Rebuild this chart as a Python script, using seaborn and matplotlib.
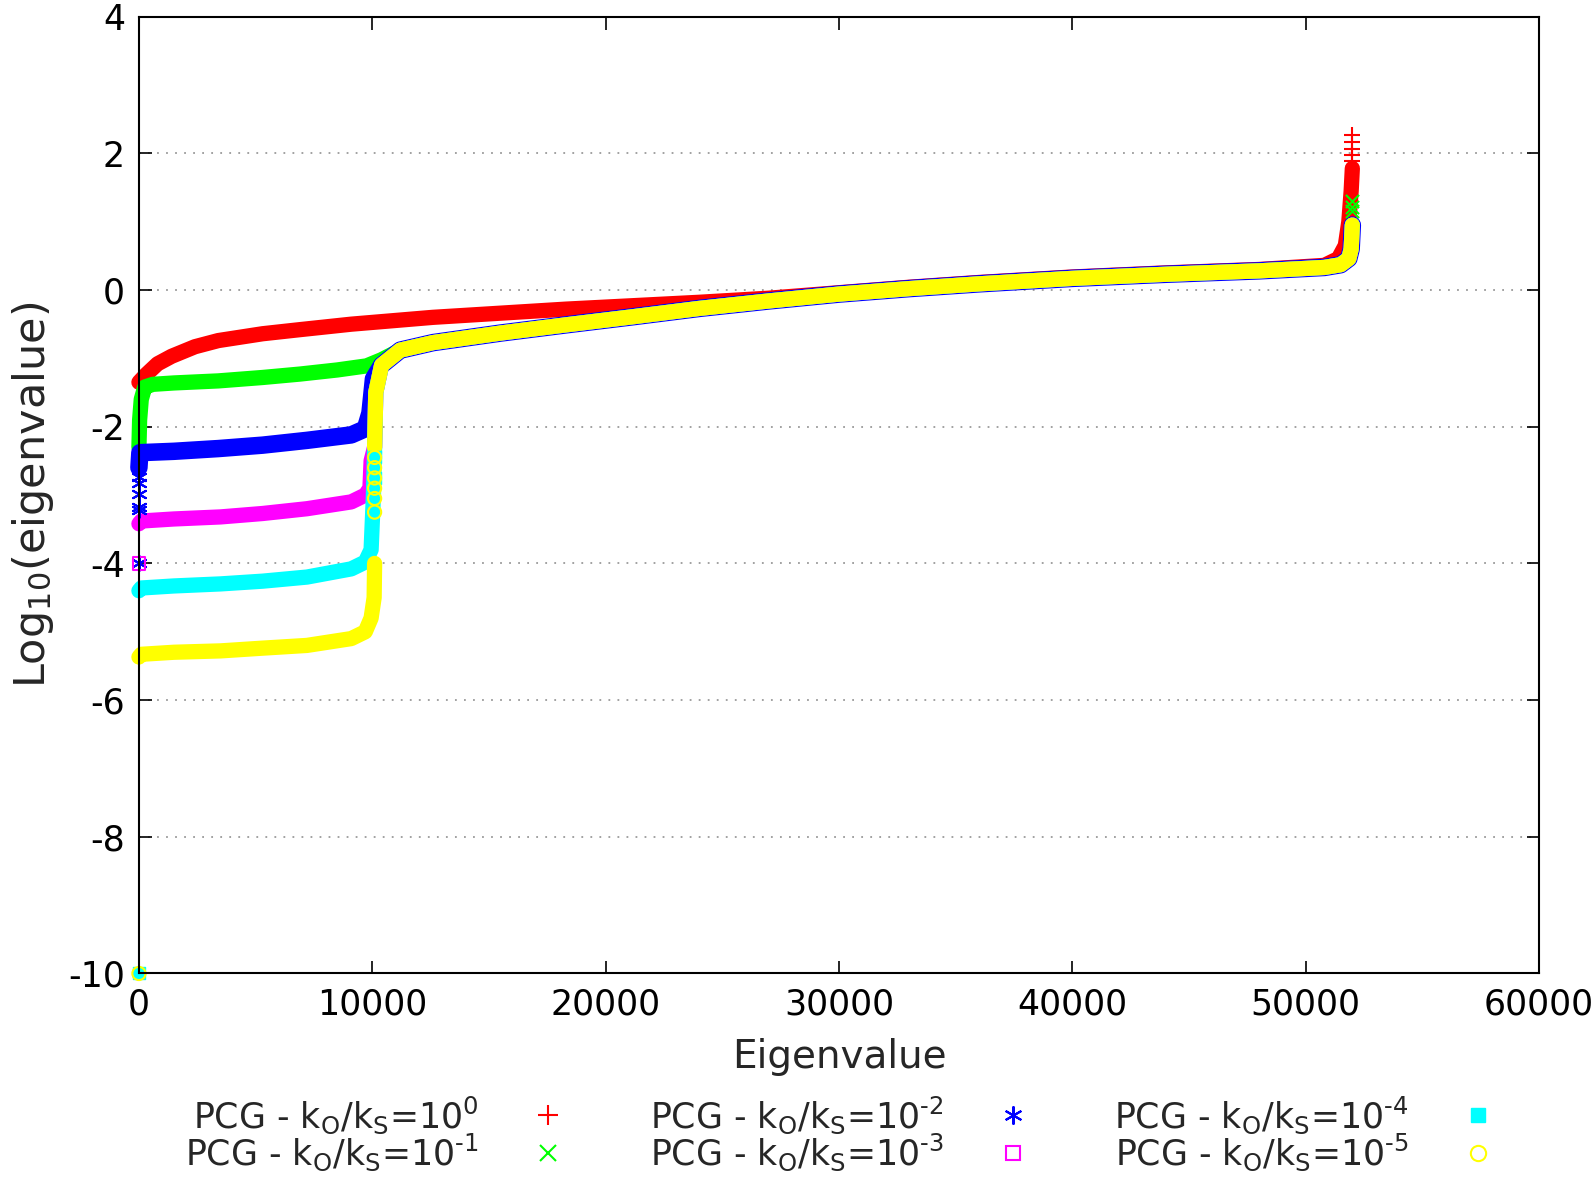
import numpy as np
import pandas as pd
import matplotlib
matplotlib.use('Agg')
import matplotlib.pyplot as plt
import seaborn as sns
from matplotlib.lines import Line2D

# shared upper branch (all k ratios <= 10^-1 follow it after ~10000)
tail_x = [10100, 10150, 10400, 11200, 12600, 15500, 18300, 21200, 24000, 27000,
          30000, 33000, 36000, 40000, 44000, 48000, 50800, 51500, 51850, 51950, 52000]
tail_y = [-2.3, -1.5, -1.1, -0.88, -0.77, -0.63, -0.51, -0.39, -0.27, -0.16,
          -0.06, 0.02, 0.09, 0.17, 0.23, 0.28, 0.33, 0.37, 0.46, 0.6, 0.95]

# 10^0 (red)
k0_x = [0, 300, 800, 1400, 2400, 3400, 5300, 6900, 9100, 12600, 18300, 24000, 27000,
        30000, 33000, 36000, 40000, 44000, 48000, 50800, 51400, 51700, 51850, 51950, 52000]
k0_y = [-1.35, -1.24, -1.08, -0.97, -0.83, -0.74, -0.64, -0.58, -0.5, -0.4, -0.28, -0.18, -0.12,
        -0.04, 0.04, 0.11, 0.19, 0.25, 0.3, 0.36, 0.46, 0.65, 1.0, 1.45, 1.78]
k0_sx = [52000, 52000, 52000, 52000, 52000]
k0_sy = [1.88, 1.98, 2.07, 2.17, 2.27]

# 10^-1 (green)
k1_x = [0, 30, 100, 250, 600, 1500, 3400, 5300, 6900, 8500, 9760, 10400]
k1_y = [-2.3, -1.9, -1.6, -1.42, -1.38, -1.36, -1.33, -1.28, -1.23, -1.17, -1.11, -1.02]
k1_sx = [52000, 52000, 52000]
k1_sy = [1.15, 1.22, 1.3]

# 10^-2 (blue)
k2_x = [0, 40, 1500, 3400, 5300, 7200, 9100, 9700, 9900, 10050]
k2_y = [-2.6, -2.38, -2.36, -2.32, -2.27, -2.2, -2.12, -2.03, -1.8, -1.3]
k2_sx = [0, 0, 0, 0, 0, 0]
k2_sy = [-4.0, -3.22, -3.17, -2.98, -2.83, -2.73]

# 10^-3 (magenta)
k3_x = [0, 100, 1500, 3500, 5300, 7200, 9100, 9700, 9900, 9950]
k3_y = [-3.42, -3.38, -3.35, -3.32, -3.27, -3.2, -3.1, -3.0, -2.9, -2.5]
k3_sx = [0]
k3_sy = [-4.0]

# 10^-4 (cyan)
k4_x = [0, 100, 1500, 3500, 5300, 7200, 9100, 9700, 9950, 10050]
k4_y = [-4.4, -4.36, -4.33, -4.3, -4.26, -4.2, -4.08, -3.98, -3.8, -3.0]
k4_sx = [0, 10100, 10100]
k4_sy = [-10.0, -2.45, -2.75]

# 10^-5 (yellow)
k5_x = [0, 100, 1500, 3500, 5300, 7200, 9100, 9700, 9950, 10080, 10100]
k5_y = [-5.37, -5.33, -5.3, -5.28, -5.24, -5.2, -5.1, -5.0, -4.8, -4.5, -4.0]
k5_sx = [0, 10100, 10100, 10100, 10100, 10100, 10100]
k5_sy = [-10.0, -3.25, -3.05, -2.9, -2.75, -2.6, -2.45]

lab = r'PCG - k$_\mathrm{O}$/k$_\mathrm{S}$=10$^{\text{%s}}$'
labels = [lab % e for e in ['0', '-1', '-2', '-3', '-4', '-5']]
colors = ['#ff0000', '#00ff00', '#0000ff', '#ff00ff', '#00ffff', '#ffff00']

sns.set_style('ticks')
plt.rcParams['font.family'] = ['DejaVu Sans']
plt.rcParams['axes.unicode_minus'] = False

fig = plt.figure(figsize=(15.95, 11.77), dpi=100)
ax = fig.add_axes([0.0871, 0.1729, 0.9649 - 0.0871, 0.9859 - 0.1729])

lw = 11
def band(x, y, c, w=lw):
    sns.lineplot(x=x, y=y, color=c, lw=w, sort=False, estimator=None, ax=ax,
                 solid_capstyle='round', solid_joinstyle='round', clip_on=False)

# red
band(k0_x, k0_y, colors[0])
ax.scatter(k0_sx, k0_sy, marker='+', s=140, color=colors[0], lw=1.5, zorder=3, clip_on=False)
# green
band(k1_x + tail_x[3:], k1_y + tail_y[3:], colors[1])
ax.scatter(k1_sx, k1_sy, marker='x', s=90, color=colors[1], lw=1.5, zorder=3, clip_on=False)
# blue (slightly wider, its edges show around the yellow band)
band(k2_x + tail_x[2:], k2_y + tail_y[2:], colors[2], w=lw + 1.6)
ax.scatter(k2_sx, k2_sy, marker=(6, 2, 0), s=110, color=colors[2], lw=1.5, zorder=3, clip_on=False)
# magenta
band(k3_x + tail_x, k3_y + tail_y, colors[3])
ax.scatter(k3_sx, k3_sy, marker='s', s=80, facecolor='none', edgecolor=colors[3], lw=1.5,
           zorder=3, clip_on=False)
# cyan
band(k4_x + tail_x, k4_y + tail_y, colors[4])
ax.scatter(k4_sx, k4_sy, marker='s', s=80, color=colors[4], zorder=3, clip_on=False)
# yellow: dense below -4, sparse circles up the jump, dense again from -2.3
band(k5_x, k5_y, colors[5])
band(tail_x, tail_y, colors[5])
ax.scatter(k5_sx, k5_sy, marker='o', s=90, facecolor='none', edgecolor=colors[5], lw=1.5,
           zorder=4, clip_on=False)

ax.set_xlim(0, 60000)
ax.set_ylim(-10, 4)
ax.set_xticks(range(0, 60001, 10000))
ax.set_yticks(range(-10, 5, 2))
ax.set_xticklabels([str(v) for v in range(0, 60001, 10000)])
ax.set_yticklabels([str(v) for v in range(-10, 5, 2)])
ax.tick_params(direction='in', length=9, width=1.2, top=True, right=True,
               labelsize=25, colors='black', pad=10)
ax.yaxis.grid(True, linestyle=(0, (1, 4)), color='#9a9a9a', lw=1.3)
ax.set_axisbelow(True)
for s in ax.spines.values():
    s.set_color('black')
    s.set_linewidth(1.5)
    s.set_visible(True)
    s.set_zorder(5)

ax.set_xlabel('Eigenvalue', fontsize=28, labelpad=12)
ax.set_ylabel(r'Log$_{10}$(eigenvalue)', fontsize=31, labelpad=9)

handles = [
    Line2D([], [], ls='none', marker='+', ms=14, mew=1.5, color=colors[0]),
    Line2D([], [], ls='none', marker='x', ms=11, mew=1.5, color=colors[1]),
    Line2D([], [], ls='none', marker=(6, 2, 0), ms=13, mew=1.5, color=colors[2]),
    Line2D([], [], ls='none', marker='s', ms=10, mew=1.5, mfc='none', mec=colors[3]),
    Line2D([], [], ls='none', marker='s', ms=10, color=colors[4]),
    Line2D([], [], ls='none', marker='o', ms=11, mew=1.5, mfc='none', mec=colors[5]),
]
fig.legend(handles, labels, loc='center', bbox_to_anchor=(0.529, 0.037), ncol=3,
           frameon=False, markerfirst=False, fontsize=25, handlelength=1.4,
           handletextpad=1.3, columnspacing=2.22, labelspacing=-0.12)

fig.savefig('out.png', dpi=100, facecolor='white')
